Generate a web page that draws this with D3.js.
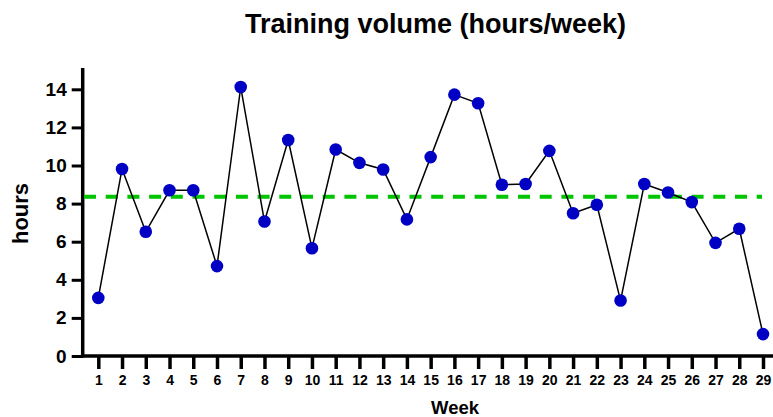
<!DOCTYPE html>
<html>
<head>
<meta charset="utf-8">
<script src="https://cdn.jsdelivr.net/npm/d3@7"></script>
<style>
  html, body { margin: 0; padding: 0; background: #fff; }
  svg { display: block; font-family: "Liberation Sans", Arial, sans-serif; }
</style>
</head>
<body>
<svg id="chart" width="773" height="417"></svg>
<script>
// ---- data ----
const weeks = [1,2,3,4,5,6,7,8,9,10,11,12,13,14,15,16,17,18,19,20,21,22,23,24,25,26,27,28,29];
const hours = [3.05,9.82,6.52,8.70,8.70,4.72,14.12,7.06,11.34,5.66,10.84,10.14,9.79,7.17,
               10.44,13.72,13.27,8.99,9.03,10.77,7.49,7.94,2.91,9.03,8.58,8.08,5.94,6.68,1.15];
const meanHours = [8.36];
const yTicks = [0,2,4,6,8,10,12,14];
const xTicks = weeks;
const title = "Training volume (hours/week)";
const xLabel = "Week";
const yLabel = "hours";

// ---- layout ----
const svg = d3.select("#chart");
const x = d3.scaleLinear().domain([1, 29]).range([98.3, 763]);
const y = d3.scaleLinear().domain([0, 15]).range([356, 70.25]);
const axisX0 = 82.7;

// title
svg.append("text")
  .attr("x", 435.5).attr("y", 33)
  .attr("text-anchor", "middle")
  .attr("font-size", 27).attr("font-weight", "bold")
  .text(title);

// y axis
const yAxis = svg.append("g")
  .attr("transform", `translate(${axisX0},0)`)
  .call(d3.axisLeft(y).tickValues(yTicks).tickSize(11).tickSizeOuter(0).tickPadding(5));
yAxis.select(".domain").remove();
yAxis.selectAll(".tick line").attr("stroke", "#000").attr("stroke-width", 3);
yAxis.selectAll(".tick text").attr("font-size", 19).attr("font-weight", "bold")
  .attr("fill", "#000").attr("font-family", "Liberation Sans, Arial, sans-serif");
svg.append("line")
  .attr("x1", axisX0).attr("x2", axisX0)
  .attr("y1", y(0) + 1.5).attr("y2", 68)
  .attr("stroke", "#000").attr("stroke-width", 3.5);

// x axis
const xAxis = svg.append("g")
  .attr("transform", `translate(0,${y(0)})`)
  .call(d3.axisBottom(x).tickValues(xTicks).tickFormat(d3.format("d"))
    .tickSize(13).tickSizeOuter(0).tickPadding(6));
xAxis.select(".domain").remove();
xAxis.selectAll(".tick line").attr("stroke", "#000").attr("stroke-width", 3.5);
xAxis.selectAll(".tick text").attr("font-size", 14).attr("font-weight", "bold")
  .attr("fill", "#000").attr("font-family", "Liberation Sans, Arial, sans-serif");
svg.append("line")
  .attr("x1", axisX0 - 1.75).attr("x2", 773)
  .attr("y1", y(0)).attr("y2", y(0))
  .attr("stroke", "#000").attr("stroke-width", 3.5);

// axis labels
svg.append("text")
  .attr("x", 455).attr("y", 414)
  .attr("text-anchor", "middle")
  .attr("font-size", 18.5).attr("font-weight", "bold")
  .text(xLabel);
svg.append("text")
  .attr("transform", "translate(28,213.5) rotate(-90)")
  .attr("text-anchor", "middle")
  .attr("font-size", 22).attr("font-weight", "bold")
  .text(yLabel);

// mean line
svg.selectAll(".mean").data(meanHours).enter().append("line")
  .attr("class", "mean")
  .attr("x1", 84).attr("x2", 762)
  .attr("y1", d => y(d)).attr("y2", d => y(d))
  .attr("stroke", "#00c400").attr("stroke-width", 4)
  .attr("stroke-dasharray", "12,9.7");

// data line
const data = weeks.map((w, i) => ({w, h: hours[i]}));
svg.append("path")
  .datum(data)
  .attr("fill", "none").attr("stroke", "#000").attr("stroke-width", 1.5)
  .attr("d", d3.line().x(d => x(d.w)).y(d => y(d.h)));

// points
svg.selectAll(".pt").data(data).enter().append("circle")
  .attr("class", "pt")
  .attr("cx", d => x(d.w)).attr("cy", d => y(d.h))
  .attr("r", 6.3)
  .attr("fill", "#0000c4");
</script>
</body>
</html>
